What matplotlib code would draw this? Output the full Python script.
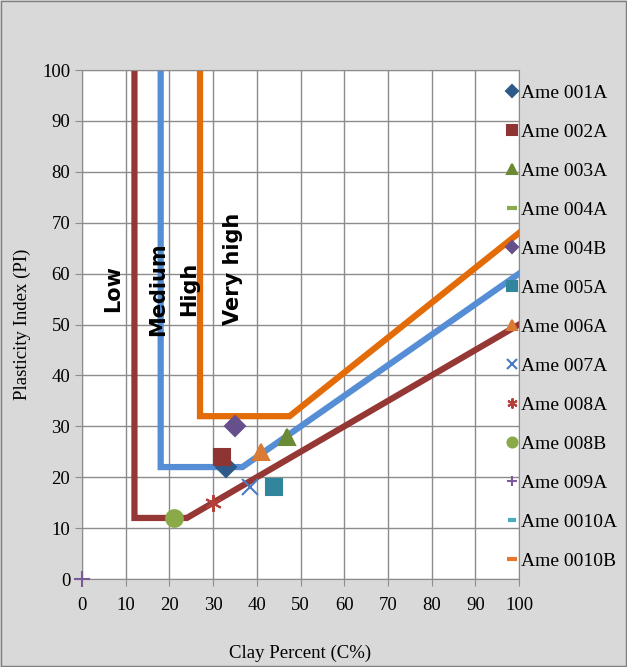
import matplotlib.pyplot as plt
import numpy as np

plt.rcParams['font.family'] = ['Liberation Serif', 'DejaVu Serif']

# zone boundary lines (clay %, PI)
low_x = [12, 12, 24, 100]
low_y = [100, 12, 12, 50]
med_x = [18, 18, 36.7, 100]
med_y = [100, 22, 22, 60]
high_x = [27, 27, 47.5, 100]
high_y = [100, 32, 32, 68]

# samples
names = ['Ame 001A', 'Ame 002A', 'Ame 003A', 'Ame 004A', 'Ame 004B', 'Ame 005A',
         'Ame 006A', 'Ame 007A', 'Ame 008A', 'Ame 008B', 'Ame 009A', 'Ame 0010A', 'Ame 0010B']
clay = [33, 32, 47, np.nan, 35, 44, 41, 38.5, 30, 21, 0, np.nan, np.nan]
pi = [22, 24, 28, np.nan, 30, 18, 25, 18, 15, 12, 0, np.nan, np.nan]
markers = ['D', 's', '^', '_', 'D', 's', '^', 'x', (6, 2, 0), 'o', '+', '_', '_']
colors = ['#2E5A8A', '#8E3432', '#6A8A33', '#8AAA4A', '#65508C', '#31859C',
          '#D97B35', '#4A7CC4', '#B5403A', '#8AAA4A', '#7A5A9A', '#4BACC6', '#E8792A']
sizes = [10, 12, 12, 12, 10, 12, 12, 12, 12, 12, 12, 9, 12]

fig = plt.figure(figsize=(6.27, 6.67), dpi=100, facecolor='#D9D9D9')
fig.patches.append(plt.Rectangle((0.002, 0.002), 0.996, 0.996, transform=fig.transFigure,
                                 fill=False, edgecolor='#7F7F7F', linewidth=1))
ax = fig.add_axes([0.1308, 0.1319, 0.697, 0.763])
ax.set_facecolor('white')

ax.plot(low_x, low_y, color='#953735', linewidth=4.5, solid_joinstyle='miter', zorder=2)
ax.plot(med_x, med_y, color='#558ED5', linewidth=4.5, solid_joinstyle='miter', zorder=2)
ax.plot(high_x, high_y, color='#E36C09', linewidth=4.5, solid_joinstyle='miter', zorder=2)

for n, cx, py, m, c, s in zip(names, clay, pi, markers, colors, sizes):
    mew = 3 if m == '_' else 1.5
    ax.plot([cx], [py], linestyle='none', marker=m, color=c, markersize=s,
            markeredgewidth=mew, label=n, zorder=3, clip_on=False)

# zone labels
for txt, xx, yy in [('Low', 7.2, 57), ('Medium', 17.5, 57), ('High', 24.5, 57), ('Very high', 34.5, 61)]:
    ax.text(xx, yy, txt, rotation=90, fontsize=15, fontweight='bold',
            family='DejaVu Sans', ha='center', va='center')

ax.set_xlim(0, 100)
ax.set_ylim(0, 100)
ax.set_xticks(np.arange(0, 101, 10))
ax.set_yticks(np.arange(0, 101, 10))
ax.grid(True, color='#8C8C8C', linewidth=1)
ax.set_axisbelow(True)
for sp in ax.spines.values():
    sp.set_color('#8C8C8C')
ax.tick_params(labelsize=13.5, length=5, color='#8C8C8C', direction='out')
ax.tick_params(axis='x', pad=8)
ax.set_xlabel('Clay Percent (C%)', fontsize=13.5, labelpad=22)
ax.set_ylabel('Plasticity Index (PI)', fontsize=13.5, labelpad=8)

leg = ax.legend(loc='upper left', bbox_to_anchor=(0.795, 0.885), bbox_transform=fig.transFigure,
                frameon=False, fontsize=14, handlelength=0.6, handletextpad=0.15,
                labelspacing=1.1, borderaxespad=0, markerscale=0.6)

fig.savefig('out.png', dpi=100, facecolor=fig.get_facecolor())
